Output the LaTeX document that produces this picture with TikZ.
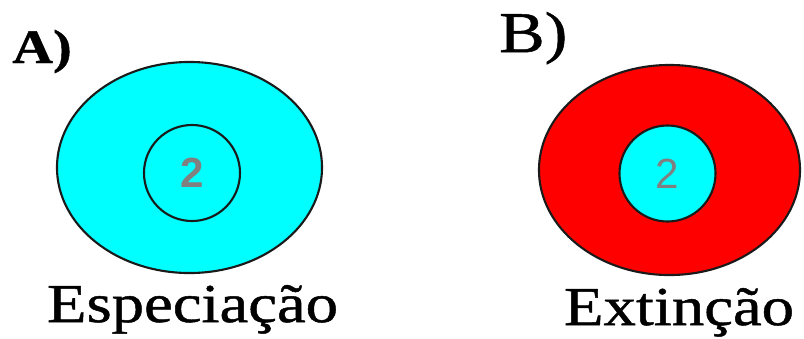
\documentclass[tikz,border=0pt]{standalone}
\usepackage{fontspec}
\usepackage{xcolor}
\usepackage{tikz}
\usetikzlibrary{positioning,shapes.geometric}
\newfontfamily\labelfont[FakeStretch=1.18,FakeBold=0.9]{Liberation Serif}
\newfontfamily\digitfont{Liberation Sans}
\definecolor{SpecCyan}{HTML}{00FFFF}
\definecolor{ExtRed}{HTML}{FF0000}
\definecolor{DigitGray}{HTML}{808080}
\definecolor{EdgeDark}{HTML}{1A1A1A}

\begin{document}
\begin{tikzpicture}[x=0.025cm, y=-0.025cm,
    zone/.style={ellipse, draw=EdgeDark, line width=1.5pt, inner sep=0pt},
    core/.style={circle, draw=EdgeDark, line width=1.5pt, inner sep=0pt, minimum size=2.4cm},
    digit/.style={font=\digitfont\fontsize{30}{30}\selectfont, text=DigitGray}]
      \useasboundingbox (0,0) rectangle (804,338);
      % A) especiacao
      \node[zone, fill=SpecCyan, minimum width=6.625cm, minimum height=5.275cm] (outerA) at (189.5,167.5) {};
      \node[core, fill=SpecCyan] (innerA) at (192,173) {};
      \node[digit, font=\digitfont\bfseries\fontsize{30}{30}\selectfont] (numA) at (innerA) {2};
      \node[anchor=base west, inner sep=0pt, font=\labelfont\bfseries\fontsize{34}{34}\selectfont] (tagA) at (12,63) {A)};
      \node[anchor=base, inner sep=0pt, font=\labelfont\fontsize{39}{39}\selectfont] (nameA) at (192.5,322) {Especiação};
      % B) extincao
      \node[zone, fill=ExtRed, minimum width=6.525cm, minimum height=5.25cm] (outerB) at (669.5,170) {};
      \node[core, fill=SpecCyan] (innerB) at (667.5,173.5) {};
      \node[digit] (numB) at (innerB) {2};
      \node[anchor=base west, inner sep=0pt, font=\labelfont\fontsize{41}{41}\selectfont] (tagB) at (499,52) {B)};
      \node[anchor=base, inner sep=0pt, font=\labelfont\fontsize{39}{39}\selectfont] (nameB) at (679,325) {Extinção};
    \end{tikzpicture}
\end{document}
